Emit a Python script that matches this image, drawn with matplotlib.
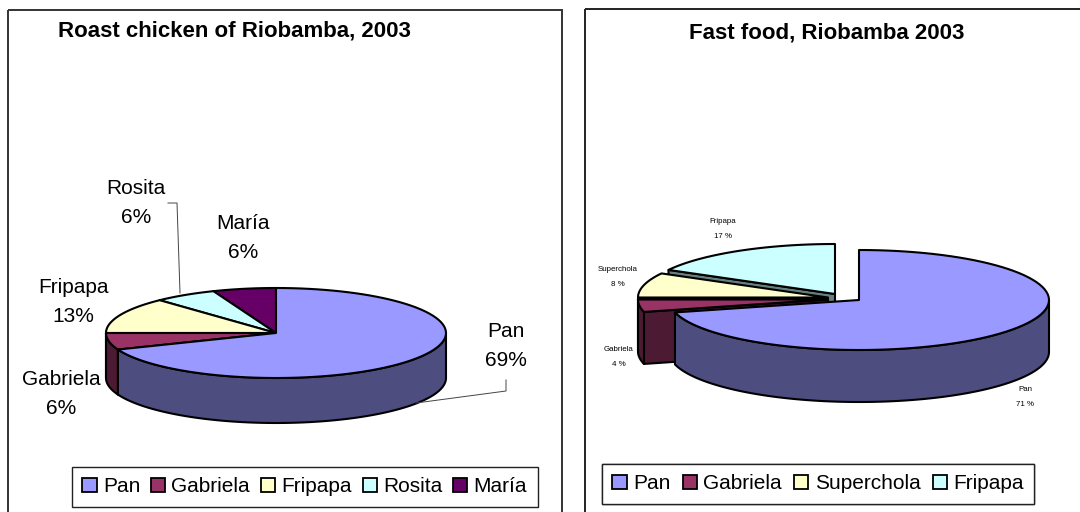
import matplotlib
matplotlib.use('Agg')
import matplotlib.pyplot as plt
import matplotlib.colors as mcolors
from matplotlib.patches import Patch, Polygon, Rectangle
import numpy as np

plt.rcParams['font.family'] = ['Liberation Sans', 'DejaVu Sans']

# left chart
chicken_names = ['Pan', 'Gabriela', 'Fripapa', 'Rosita', 'María']
chicken_pct = [69, 6, 13, 6, 6]
chicken_colors = ['#9999FF', '#993366', '#FFFFCC', '#CCFFFF', '#660066']

# right chart
food_names = ['Pan', 'Gabriela', 'Superchola', 'Fripapa']
food_pct = [71, 4, 8, 17]
food_colors = ['#9999FF', '#993366', '#FFFFCC', '#CCFFFF']

# pixel coords, y goes down
chicken_centers = [(276, 333)] * 5
food_centers = [(859, 300), (828, 299.5), (828, 297.5), (835, 294)]


def arc(cx, cy, rx, ry, a, b, drop=0):
    t = np.radians(np.linspace(a, b, 90))
    return np.column_stack([cx + rx * np.cos(t), cy - ry * np.sin(t) + drop])


def pie3d(ax, pct, colors, centers, rx, ry, depth):
    edges = 90 - np.cumsum([0] + list(pct)) * 3.6
    style = dict(edgecolor='black', lw=1.5, joinstyle='round')
    # back slices first so the front ones cover them
    for i in range(len(pct) - 1, -1, -1):
        cx, cy = centers[i]
        a, b = edges[i], edges[i + 1]
        dark = [c * 0.5 for c in mcolors.to_rgb(colors[i])]
        # cut face, only the one turned to the viewer
        if np.cos(np.radians(a)) < -1e-6:
            p = arc(cx, cy, rx, ry, a, a)[0]
            ax.add_patch(Polygon([(cx, cy), p, p + (0, depth), (cx, cy + depth)], facecolor=dark, **style))
        # outer wall, only the front half
        a2, b2 = min(a, 0), max(b, -180)
        if a2 > b2:
            top = arc(cx, cy, rx, ry, a2, b2)
            low = arc(cx, cy, rx, ry, a2, b2, depth)
            ax.add_patch(Polygon(np.vstack([top, low[::-1]]), facecolor=dark, **style))
        rim = arc(cx, cy, rx, ry, a, b)
        ax.add_patch(Polygon(np.vstack([[(cx, cy)], rim]), facecolor=colors[i], **style))


def add_legend(ax, names, colors, x, y, textpad, spacing):
    handles = [Patch(facecolor=c, edgecolor='black', lw=1.3) for c in colors]
    leg = ax.legend(handles, names, ncol=len(names), loc='upper left', bbox_to_anchor=(x, y),
                    bbox_transform=ax.transData, borderaxespad=0, fontsize=15, fancybox=False,
                    edgecolor='#222222', framealpha=1, handlelength=0.68, handleheight=0.68,
                    handletextpad=textpad, columnspacing=spacing, borderpad=0.5)
    leg.get_frame().set_linewidth(1)
    ax.add_artist(leg)


fig, ax = plt.subplots(figsize=(10.8, 5.12), dpi=100)
ax.set_position([0, 0, 1, 1])
ax.set_xlim(0, 1080)
ax.set_ylim(512, 0)
ax.axis('off')

# chart frames, cut by the bottom of the image
ax.add_patch(Rectangle((8, 9.5), 554, 520, fill=False, edgecolor='#333333', lw=1.4))
ax.add_patch(Rectangle((585, 8.5), 510, 520, fill=False, edgecolor='#222222', lw=1.4))

ax.text(234.5, 31, 'Roast chicken of Riobamba, 2003', fontsize=16, fontweight='bold', ha='center', va='center')
ax.text(827, 33, 'Fast food, Riobamba 2003', fontsize=16, fontweight='bold', ha='center', va='center')

pie3d(ax, chicken_pct, chicken_colors, chicken_centers, 170, 45, 45)
pie3d(ax, food_pct, food_colors, food_centers, 190, 50, 52)

# leader lines
ax.plot([168, 177, 180], [203, 203, 293], color='#444444', lw=0.7)
ax.plot([506, 506, 416], [380, 391, 403], color='#444444', lw=0.7)

chicken_spots = [(506, 346), (61, 394), (73, 302), (136, 203), (243, 238)]
for (x, y), name, v in zip(chicken_spots, chicken_names, chicken_pct):
    ax.text(x, y, f'{name}\n{v}%', fontsize=15, ha='center', va='center', linespacing=1.68)

food_spots = [(1025, 397), (619, 357), (618, 277), (723, 229)]
for (x, y), name, v in zip(food_spots, food_names, food_pct):
    ax.text(x, y, f'{name}\n{v} %', fontsize=5.7, ha='center', va='center', linespacing=2.7)

add_legend(ax, chicken_names, chicken_colors, 72, 467, 0.3, 0.52)
add_legend(ax, food_names, food_colors, 602, 464, 0.3, 0.6)

fig.savefig('out.png', dpi=100)
